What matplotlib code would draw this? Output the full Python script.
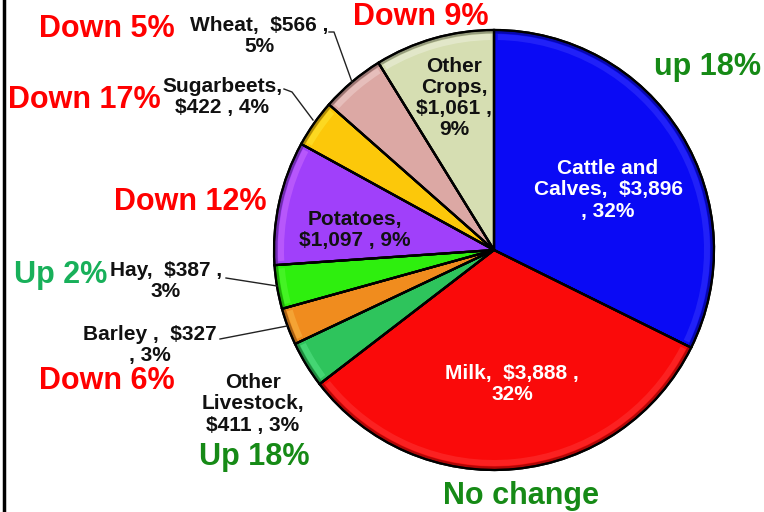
import matplotlib.pyplot as plt
from matplotlib.patches import Wedge

plt.rcParams['font.family'] = ['Liberation Sans', 'DejaVu Sans']

# ----------------------------
# Data
# ----------------------------
categories = ["Cattle and\nCalves,  $3,896\n, 32%", "Milk,  $3,888 ,\n32%",
              "Other\nLivestock,\n$411 , 3%", "Barley ,  $327\n, 3%",
              "Hay,  $387 ,\n3%", "Potatoes,\n$1,097 , 9%",
              "Sugarbeets,\n$422 , 4%", "Wheat,  $566 ,\n5%",
              "Other\nCrops,\n$1,061 ,\n9%"]
values = [3896, 3888, 411, 327, 387, 1097, 422, 566, 1061]
changes = ["up 18%", "No change", "Up 18%", "Down 6%", "Up 2%",
           "Down 12%", "Down 17%", "Down 5%", "Down 9%"]

colors = ["#0A0AF5", "#FA0A0A", "#2EC45C", "#F08C1E", "#2EEF0E",
          "#A040FA", "#FCC80A", "#DCA8A4", "#D6DEB2"]
label_colors = ["white", "white", "#111111", "#111111", "#111111",
                "#111111", "#111111", "#111111", "#111111"]
change_colors = ["#168A16", "#168A16", "#168A16", "#FF0000", "#18B05A",
                 "#FF0000", "#FF0000", "#FF0000", "#FF0000"]

# ----------------------------
# Layout (pixel coords, y from top)
# ----------------------------
W, H = 764, 512
cx, cy, r = 494, 250, 220

label_pos = [(608, 190), (512, 384), (253, 404), (150, 345), (166, 281),
             (355, 230), (222, 97), (259, 36), (454, 98)]
change_pos = [(707, 67), (521, 496), (254, 457), (107, 381), (61, 275),
              (190, 202), (84, 100), (107, 29), (421, 17)]
leaders = {3: [(220, 339), (287, 326)],
           4: [(226, 278), (277, 286)],
           6: [(284, 89), (292, 92), (313, 120)],
           7: [(329, 32), (334, 32), (352, 82)]}


def py(y):
    return H - y


fig = plt.figure(figsize=(W / 100, H / 100), dpi=100)
ax = fig.add_axes([0, 0, 1, 1])

wedges, _ = ax.pie(values, colors=colors, startangle=90, counterclock=False,
                   center=(cx, py(cy)), radius=r,
                   wedgeprops=dict(edgecolor="black", linewidth=1.6))

ax.set_xlim(0, W)
ax.set_ylim(0, H)
ax.set_aspect('equal')
ax.axis('off')

# soft bevel: lighter rim just inside each slice edge, darker outer edge
for w in wedges:
    t1, t2 = w.theta1, w.theta2
    fc = w.get_facecolor()
    light = tuple(min(1, c + 0.3) for c in fc[:3])
    ax.add_patch(Wedge((cx, py(cy)), r - 4, t1 + 1, t2 - 1, width=6,
                       facecolor=light, edgecolor="none", alpha=0.3))
    dark = tuple(c * 0.5 for c in fc[:3])
    ax.add_patch(Wedge((cx, py(cy)), r - 0.5, t1, t2, width=3,
                       facecolor=dark, edgecolor="none", alpha=0.6))
    ax.add_patch(Wedge((cx, py(cy)), r, t1, t2, facecolor="none",
                       edgecolor="black", linewidth=1.6))

for i, lab in enumerate(categories):
    x, y = label_pos[i]
    ax.text(x, py(y), lab, ha="center", va="center", fontsize=15,
            fontweight="bold", color=label_colors[i], linespacing=1.15)

for i, ch in enumerate(changes):
    x, y = change_pos[i]
    ax.text(x, py(y), ch, ha="center", va="center", fontsize=22,
            fontweight="bold", color=change_colors[i])

for pts in leaders.values():
    ax.plot([p[0] for p in pts], [py(p[1]) for p in pts], color="#222222",
            linewidth=1.0)

# left frame line
ax.plot([4, 4], [0, H], color="black", linewidth=2.5)

plt.savefig("out.png", dpi=100)
